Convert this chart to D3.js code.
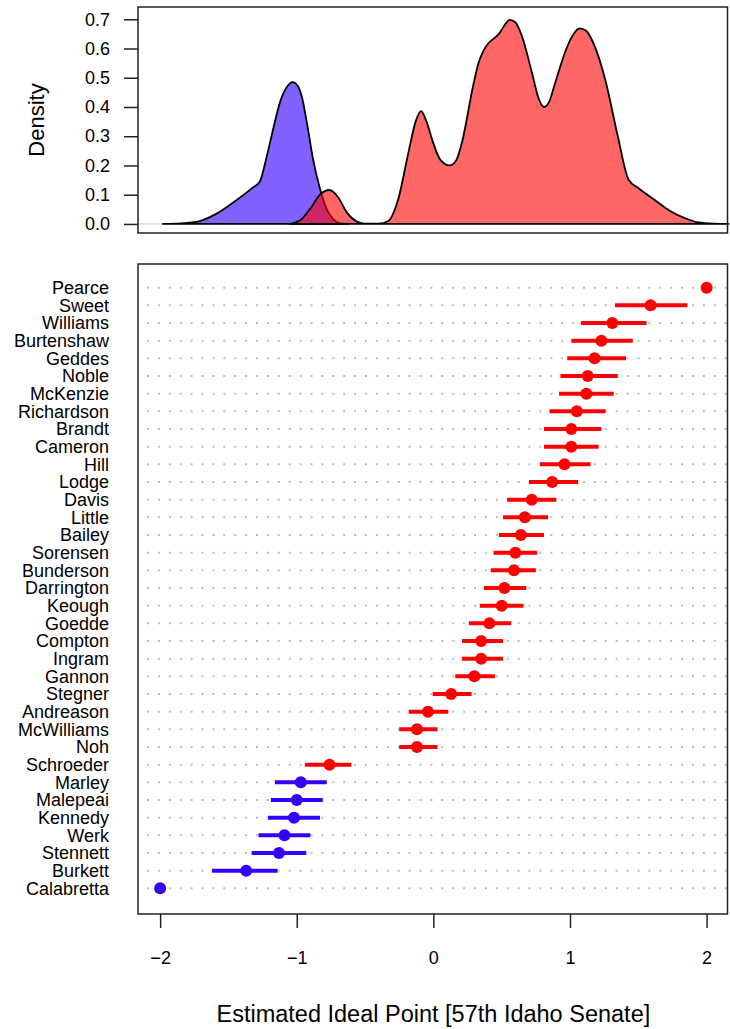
<!DOCTYPE html>
<html>
<head>
<meta charset="utf-8">
<script src="https://cdn.jsdelivr.net/npm/d3@7"></script>
<style>
  body { margin: 0; background: #fff; }
  text { font-family: "Liberation Sans", Arial, Helvetica, sans-serif; fill: #000; }
</style>
</head>
<body>
<div id="chart"></div>
<script>
// senators, top to bottom
const names = ['Pearce', 'Sweet', 'Williams', 'Burtenshaw', 'Geddes', 'Noble', 'McKenzie',
  'Richardson', 'Brandt', 'Cameron', 'Hill', 'Lodge', 'Davis', 'Little', 'Bailey', 'Sorensen',
  'Bunderson', 'Darrington', 'Keough', 'Goedde', 'Compton', 'Ingram', 'Gannon', 'Stegner',
  'Andreason', 'McWilliams', 'Noh', 'Schroeder', 'Marley', 'Malepeai', 'Kennedy', 'Werk',
  'Stennett', 'Burkett', 'Calabretta'];
const party = ['R', 'R', 'R', 'R', 'R', 'R', 'R', 'R', 'R', 'R', 'R', 'R', 'R', 'R', 'R', 'R',
  'R', 'R', 'R', 'R', 'R', 'R', 'R', 'R', 'R', 'R', 'R', 'R', 'D', 'D', 'D', 'D', 'D', 'D', 'D'];
const idealPoint = [2.00, 1.59, 1.31, 1.23, 1.18, 1.13, 1.12, 1.05, 1.01, 1.01, 0.96, 0.87, 0.72,
  0.67, 0.64, 0.60, 0.59, 0.52, 0.50, 0.41, 0.35, 0.35, 0.30, 0.13, -0.04, -0.12, -0.12, -0.76,
  -0.97, -1.00, -1.02, -1.09, -1.13, -1.37, -2.00];
const lower = [2.00, 1.33, 1.08, 1.01, 0.98, 0.93, 0.92, 0.85, 0.81, 0.81, 0.78, 0.70, 0.54,
  0.51, 0.48, 0.44, 0.42, 0.37, 0.34, 0.26, 0.21, 0.21, 0.16, -0.005, -0.18, -0.25, -0.25, -0.94,
  -1.16, -1.19, -1.21, -1.28, -1.33, -1.62, -2.00];
const upper = [2.00, 1.86, 1.56, 1.46, 1.41, 1.35, 1.32, 1.26, 1.23, 1.21, 1.15, 1.06, 0.90,
  0.84, 0.81, 0.76, 0.75, 0.68, 0.66, 0.57, 0.51, 0.51, 0.45, 0.28, 0.11, 0.03, 0.03, -0.60,
  -0.78, -0.81, -0.83, -0.90, -0.93, -1.14, -2.00];

// density of ideal points by party
const demDensityX = [-1.98, -1.85, -1.71, -1.58, -1.46, -1.32, -1.27, -1.22, -1.17, -1.12, -1.07,
  -1.03, -0.99, -0.96, -0.92, -0.88, -0.83, -0.78, -0.73, -0.68, -0.62];
const demDensityY = [0, 0.002, 0.01, 0.037, 0.075, 0.125, 0.145, 0.23, 0.33, 0.42, 0.47,
  0.485, 0.47, 0.43, 0.33, 0.22, 0.12, 0.05, 0.015, 0.002, 0];
const repDensityX = [-1.05, -0.97, -0.90, -0.83, -0.76, -0.70, -0.63, -0.56, -0.50, -0.40, -0.33,
  -0.26, -0.18, -0.13, -0.09, -0.05, -0.01, 0.05, 0.12, 0.17, 0.21, 0.29, 0.33, 0.37, 0.48, 0.56,
  0.60, 0.65, 0.72, 0.77, 0.81, 0.85, 0.89, 0.97, 1.02, 1.07, 1.12, 1.16, 1.26, 1.35, 1.43, 1.50,
  1.62, 1.73, 1.84, 1.94, 2.05, 2.16];
const repDensityY = [0, 0.014, 0.053, 0.10, 0.116, 0.093, 0.037, 0.008, 0.001, 0.001, 0.01,
  0.08, 0.25, 0.35, 0.386, 0.35, 0.29, 0.22, 0.20, 0.22, 0.28, 0.47, 0.55, 0.595, 0.65, 0.698,
  0.69, 0.64, 0.52, 0.43, 0.40, 0.42, 0.48, 0.595, 0.645, 0.669, 0.66, 0.63, 0.49, 0.30, 0.15,
  0.123, 0.082, 0.045, 0.02, 0.005, 0.001, 0];

const densityTicks = [0, 0.1, 0.2, 0.3, 0.4, 0.5, 0.6, 0.7];
const xTicks = [-2, -1, 0, 1, 2];

const W = 730, H = 1029;
const left = 138, right = 727.5;
const topPanel = { top: 7, bottom: 233 };
const botPanel = { top: 264, bottom: 914 };

const svg = d3.select('#chart').append('svg')
  .attr('width', W).attr('height', H);

const x = d3.scaleLinear().domain([-2.162, 2.153]).range([left, right]);
const yDens = d3.scaleLinear().domain([-0.031, 0.742]).range([topPanel.bottom, topPanel.top]);
const yRow = d3.scalePoint().domain(names).range([287.7, 888.3]);

const fmt = d => d3.format('.1f')(d);
const minus = d => (d < 0 ? '\u2212' + Math.abs(d) : String(d));

// ---- density panel ----
svg.append('line')
  .attr('x1', left).attr('x2', right)
  .attr('y1', yDens(0)).attr('y2', yDens(0))
  .attr('stroke', '#ccc').attr('stroke-width', 1);

const area = d3.area()
  .x(d => x(d[0]))
  .y0(yDens(0))
  .y1(d => yDens(d[1]))
  .curve(d3.curveMonotoneX);

const dem = demDensityX.map((v, i) => [v, demDensityY[i]]);
const rep = repDensityX.map((v, i) => [v, repDensityY[i]]);

svg.append('path')
  .datum(dem)
  .attr('d', area)
  .attr('fill', 'rgba(51,0,255,0.62)')
  .attr('stroke', '#000').attr('stroke-width', 1.8)
  .attr('stroke-linejoin', 'round');

svg.append('path')
  .datum(rep)
  .attr('d', area)
  .attr('fill', 'rgba(255,0,0,0.6)')
  .attr('stroke', '#000').attr('stroke-width', 1.8)
  .attr('stroke-linejoin', 'round');

svg.append('rect')
  .attr('x', left).attr('y', topPanel.top)
  .attr('width', right - left).attr('height', topPanel.bottom - topPanel.top)
  .attr('fill', 'none').attr('stroke', '#222').attr('stroke-width', 1.5);

const yAxis = svg.append('g')
  .attr('transform', `translate(${left},0)`)
  .call(d3.axisLeft(yDens).tickValues(densityTicks).tickFormat(fmt)
    .tickSize(14).tickPadding(14));
yAxis.select('.domain').remove();
yAxis.selectAll('line').attr('stroke', '#222').attr('stroke-width', 1.5);
yAxis.selectAll('text').style('font-size', '18px')
  .style('font-family', '"Liberation Sans", Arial, sans-serif');

svg.append('text')
  .attr('transform', `translate(44,${(topPanel.top + topPanel.bottom) / 2}) rotate(-90)`)
  .attr('text-anchor', 'middle')
  .style('font-size', '22px')
  .text('Density');

// ---- dot plot panel ----
svg.append('g').selectAll('line')
  .data(names)
  .join('line')
  .attr('x1', 147).attr('x2', right)
  .attr('y1', d => yRow(d)).attr('y2', d => yRow(d))
  .attr('stroke', '#bdbdbd').attr('stroke-width', 2)
  .attr('stroke-dasharray', '2,8.9');

const partyColor = p => (p === 'R' ? '#ff0000' : '#3300ff');

svg.append('g').selectAll('line')
  .data(names)
  .join('line')
  .attr('x1', (d, i) => x(lower[i])).attr('x2', (d, i) => x(upper[i]))
  .attr('y1', d => yRow(d)).attr('y2', d => yRow(d))
  .attr('stroke', (d, i) => partyColor(party[i]))
  .attr('stroke-width', 4);

svg.append('g').selectAll('circle')
  .data(names)
  .join('circle')
  .attr('cx', (d, i) => x(idealPoint[i]))
  .attr('cy', d => yRow(d))
  .attr('r', 6)
  .attr('fill', (d, i) => partyColor(party[i]));

svg.append('g').selectAll('text')
  .data(names)
  .join('text')
  .attr('x', 109)
  .attr('y', d => yRow(d))
  .attr('dy', '0.35em')
  .attr('text-anchor', 'end')
  .style('font-size', '18px')
  .text(d => d);

svg.append('rect')
  .attr('x', left).attr('y', botPanel.top)
  .attr('width', right - left).attr('height', botPanel.bottom - botPanel.top)
  .attr('fill', 'none').attr('stroke', '#222').attr('stroke-width', 1.5);

const xAxis = svg.append('g')
  .attr('transform', `translate(0,${botPanel.bottom})`)
  .call(d3.axisBottom(x).tickValues(xTicks).tickFormat(minus)
    .tickSize(14).tickPadding(23));
xAxis.select('.domain').remove();
xAxis.selectAll('line').attr('stroke', '#222').attr('stroke-width', 1.5);
xAxis.selectAll('text').style('font-size', '18px')
  .style('font-family', '"Liberation Sans", Arial, sans-serif');

svg.append('text')
  .attr('x', x(0))
  .attr('y', 1022)
  .attr('text-anchor', 'middle')
  .style('font-size', '23.5px')
  .text('Estimated Ideal Point [57th Idaho Senate]');
</script>
</body>
</html>
